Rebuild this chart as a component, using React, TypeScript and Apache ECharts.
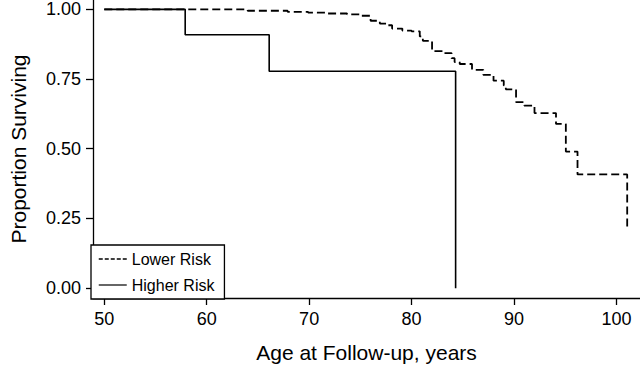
import React, { useEffect, useRef } from "react";
import * as echarts from "echarts";

const lowerAges = [50, 64.0, 67.9, 69.9, 71.7, 73.7, 75.1, 76.0, 76.9, 77.6, 78.1, 79.1, 80.0, 80.8, 81.1, 82.0, 83.1, 83.9, 84.2, 84.7, 85.9, 87.0, 88.0, 89.0, 89.2, 90.2, 91.0, 92.0, 94.1, 95.06, 96.2, 101.05];
const lowerSurv = [1.0, 0.995, 0.991, 0.988, 0.985, 0.982, 0.977, 0.959, 0.949, 0.943, 0.931, 0.924, 0.921, 0.903, 0.887, 0.85, 0.843, 0.825, 0.811, 0.804, 0.783, 0.765, 0.744, 0.727, 0.713, 0.667, 0.655, 0.628, 0.589, 0.49, 0.408, 0.21];
const higherAges = [50, 57.9, 66.1, 84.3];
const higherSurv = [1.0, 0.909, 0.778, 0.0];
const xTicks = [50, 60, 70, 80, 90, 100];
const yTicks = [0, 0.25, 0.5, 0.75, 1];
const seriesNames = ["Lower Risk", "Higher Risk"];

const FONT = "'Liberation Sans', Arial, Helvetica, sans-serif";

export default function App() {
  const ref = useRef<HTMLDivElement>(null);
  useEffect(() => {
    if (!ref.current) return;
    const chart = echarts.init(ref.current, null, { renderer: "svg" });
    const lower = lowerAges.map((a, i) => [a, lowerSurv[i]]);
    const higher = higherAges.map((a, i) => [a, higherSurv[i]]);
    chart.setOption({
      animation: false,
      backgroundColor: "#fff",
      grid: { left: 85, right: 0, top: 0, bottom: 65, containLabel: false },
      legend: {
        orient: "vertical",
        left: 91,
        top: 245,
        data: [
          { name: seriesNames[0], lineStyle: { type: [4, 2], width: 1.5 } },
          { name: seriesNames[1], lineStyle: { width: 1.2 } },
        ],
        itemWidth: 28,
        itemHeight: 14,
        itemGap: 10,
        itemStyle: { opacity: 0 },
        padding: [6, 10, 6, 7],
        borderColor: "#000",
        borderWidth: 1.3,
        backgroundColor: "#fff",
        textStyle: { fontFamily: FONT, fontSize: 16, color: "#000" },
      },
      xAxis: {
        type: "value",
        min: 48.9,
        max: 102.3,
        name: "Age at Follow-up, years",
        nameLocation: "middle",
        nameGap: 44,
        nameTextStyle: { fontFamily: FONT, fontSize: 21, color: "#000" },
        axisLine: { show: true, onZero: false, lineStyle: { color: "#000", width: 1.3 } },
        axisTick: { show: true, length: 7, customValues: xTicks, lineStyle: { color: "#000", width: 1.3 } },
        axisLabel: { customValues: xTicks, fontFamily: FONT, fontSize: 18, color: "#000", margin: 12 },
        splitLine: { show: false },
      },
      yAxis: {
        type: "value",
        min: -0.0353,
        max: 1.0335,
        name: "Proportion Surviving",
        nameLocation: "middle",
        nameGap: 64,
        nameTextStyle: { fontFamily: FONT, fontSize: 21, color: "#000" },
        axisLine: { show: true, onZero: false, lineStyle: { color: "#000", width: 1.3 } },
        axisTick: { show: true, length: 7, customValues: yTicks, lineStyle: { color: "#000", width: 1.3 } },
        axisLabel: {
          customValues: yTicks,
          fontFamily: FONT,
          fontSize: 18,
          color: "#000",
          margin: 12,
          formatter: (v: number) => v.toFixed(2),
        },
        splitLine: { show: false },
      },
      series: [
        {
          name: seriesNames[0],
          type: "line",
          step: "end",
          symbol: "none",
          data: lower,
          lineStyle: { color: "#000", width: 1.8, type: [8, 4] },
          itemStyle: { color: "#000" },
          z: 2,
        },
        {
          name: seriesNames[1],
          type: "line",
          step: "end",
          symbol: "none",
          data: higher,
          lineStyle: { color: "#000", width: 1.6, type: "solid" },
          itemStyle: { color: "#000" },
          z: 3,
        },
      ],
    });
    return () => chart.dispose();
  }, []);
  return <div ref={ref} style={{ width: 640, height: 368, position: "fixed", left: 0, top: 0 }} />;
}
